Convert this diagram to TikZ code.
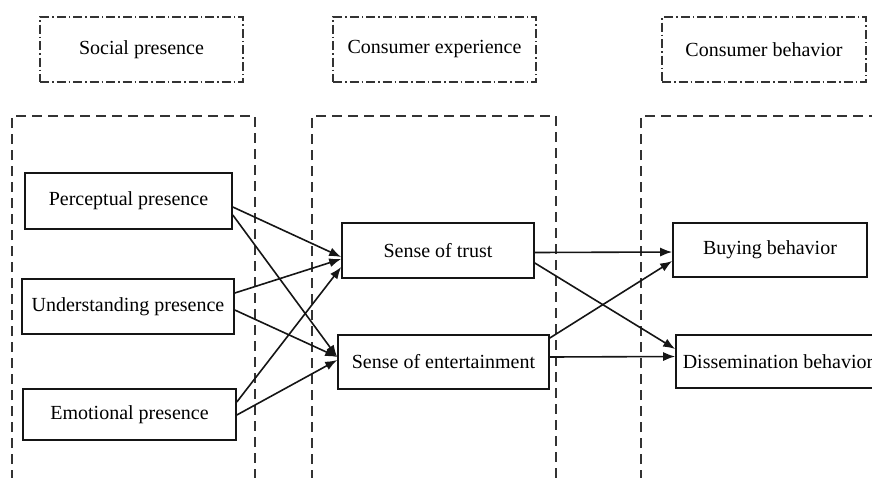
\documentclass[tikz,border=0pt]{standalone}
\usepackage{fontspec}
\setmainfont{Liberation Serif}
\usetikzlibrary{arrows.meta,calc}
\definecolor{frame}{HTML}{333333}
\definecolor{ink}{HTML}{151515}

\tikzset{
  box/.style={draw=ink, line width=1.6pt, minimum height=54pt, inner sep=0pt,
    font=\fontsize{20}{24}\selectfont},
  header/.style={draw=frame, line width=1.4pt,
    dash pattern=on 9pt off 3pt on 1.5pt off 3pt,
    minimum width=203pt, minimum height=65pt, inner sep=0pt,
    font=\fontsize{20}{24}\selectfont},
  group/.style={draw=frame, line width=1.7pt, dash pattern=on 10pt off 6pt},
  link/.style={draw=ink, line width=1.6pt, -{Latex[length=12pt,width=9pt]}}
}

\begin{document}
\begin{tikzpicture}[x=1pt,y=-1pt]
  \useasboundingbox (0,0) rectangle (872,477);

  % Stage headers
  \node[header] (social) at (141.5,49.5) {Social presence};
  \node[header] (exper) at (434.5,49.5) {Consumer experience};
  \node[header, minimum width=204pt] (behav) at (764,49.5) {Consumer behavior};

  % Open dashed groups
  \draw[group] (12,480) -- (12,116) -- (255,116) -- (255,480);
  \draw[group] (312,480) -- (312,116) -- (556,116) -- (556,480);
  \draw[group] (641,480) -- (641,116) -- (890,116);

  % Social presence dimensions
  \node[box, minimum width=207pt, minimum height=56pt] (percept) at (128.5,201) {Perceptual presence};
  \node[box, minimum width=212pt, minimum height=55pt] (underst) at (128,306.5) {Understanding presence};
  \node[box, minimum width=213pt, minimum height=51pt] (emotion) at (129.5,414.5) {Emotional presence};

  % Consumer experience
  \node[box, minimum width=192pt, minimum height=55pt] (trust) at (438,250.5) {Sense of trust};
  \node[box, minimum width=211pt] (entert) at (443.5,362) {Sense of entertainment};

  % Consumer behavior
  \node[box, minimum width=194pt] (buying) at (770,250) {Buying behavior};
  \node[box, minimum width=204pt, minimum height=53pt] (dissem) at (778,361.5) {Dissemination behavior};

  % Paths into experience
  \draw[link] ($(percept.east)+(0,6)$) -- ($(trust.west)+(0,6.5)$);
  \draw[link] ($(percept.east)+(0,14)$) -- ($(entert.west)+(0,-5)$);
  \draw[link] ($(underst.east)+(0,-13.5)$) -- ($(trust.west)+(0,8.5)$);
  \draw[link] ($(underst.east)+(0,3.5)$) -- ($(entert.west)+(0,-5)$);
  \draw[link] ($(emotion.east)+(0,-12.5)$) -- ($(trust.west)+(0,16.5)$);
  \draw[link] ($(emotion.east)+(0,0.5)$) -- ($(entert.west)+(0,-2)$);

  % Paths into behavior
  \draw[link] ($(trust.east)+(0,2)$) -- ($(buying.west)+(0,2)$);
  \draw[link] ($(trust.east)+(0,12.5)$) -- ($(dissem.west)+(0,-12.5)$);
  \draw[link] ($(entert.east)+(0,-24)$) -- ($(buying.west)+(0,11)$);
  \draw[link] ($(entert.east)+(0,-5)$) -- ($(dissem.west)+(0,-5)$);
\end{tikzpicture}
\end{document}
